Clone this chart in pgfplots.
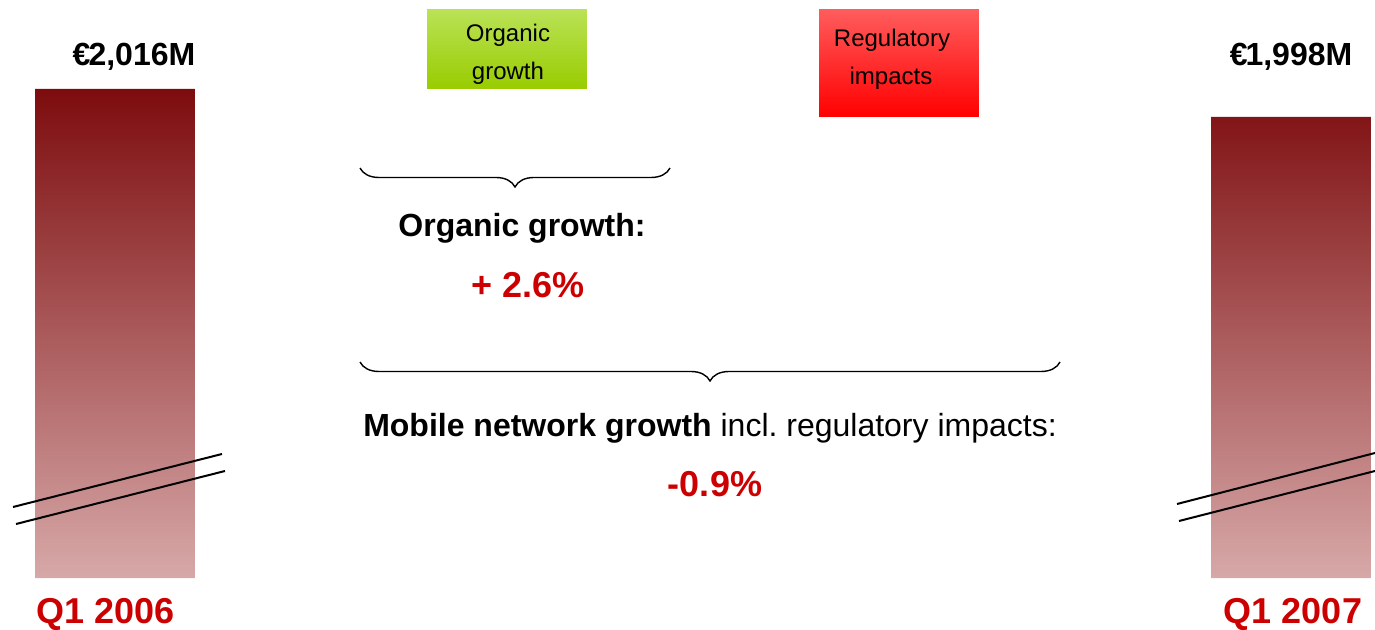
\documentclass[border=0pt]{standalone}
\usepackage{pgfplots}
\pgfplotsset{compat=1.18}
\usepackage{fontspec}
\setmainfont{Liberation Sans}
\usetikzlibrary{decorations.pathreplacing}
\definecolor{bartop}{RGB}{125,12,14}
\definecolor{barbot}{RGB}{215,168,168}
\definecolor{greentop}{RGB}{186,226,86}
\definecolor{greenbot}{RGB}{153,204,0}
\definecolor{redtop}{RGB}{255,92,92}
\definecolor{redbot}{RGB}{255,0,0}
\definecolor{txtred}{RGB}{204,0,0}
\newcommand\fmid{\fontsize{32bp}{38bp}\selectfont}
\newcommand\fbig{\fontsize{36bp}{42bp}\selectfont}
\newcommand\fsmall{\fontsize{24bp}{29bp}\selectfont}
\frenchspacing
\begin{document}
\begin{tikzpicture}
\begin{axis}[
  scale only axis, width=1375bp, height=629bp,
  at={(0,0)}, anchor=south west,
  xmin=-0.29337, xmax=3.21429, ymin=1668.9, ymax=2073.2,
  axis lines=none, ybar stacked, bar width=0.408,
  clip mode=individual,
]
% invisible base of each floating bar
\addplot[draw=none, fill=none] coordinates {(0,1701.6) (1,2016) (2,1998) (3,1701.6)};
% totals (broken axis)
\addplot[draw=none, top color=bartop, bottom color=barbot] coordinates {(0,314.4) (1,0) (2,0) (3,296.4)};
% organic growth
\addplot[draw=none, top color=greentop, bottom color=greenbot] coordinates {(0,0) (1,51) (2,0) (3,0)};
% regulatory impacts
\addplot[draw=none, top color=redtop, bottom color=redbot] coordinates {(0,0) (1,0) (2,69) (3,0)};
\coordinate (TL) at (rel axis cs:0,1);
\coordinate (BR) at (rel axis cs:1,0);
\end{axis}
\begin{scope}[shift={(TL)}, x=1bp, y=-1bp]
  % axis break marks
  \draw[line width=2bp] (13,507) -- (222,454);
  \draw[line width=2bp] (16,524) -- (225,471);
  \draw[line width=2bp] (1177,504) -- (1375,453);
  \draw[line width=2bp] (1179,521) -- (1375,471);
  % braces
  \draw[line width=1.4bp, decorate, decoration={brace, mirror, amplitude=19bp}] (360,168) -- (670,168);
  \draw[line width=1.4bp, decorate, decoration={brace, mirror, amplitude=19bp}] (360,362) -- (1060,362);
  % texts
  \node[anchor=base, inner sep=0] at (134,66) {\fmid\bfseries €\kern-2bp 2,016M};
  \node[anchor=base, inner sep=0] at (1291,66) {\fmid\bfseries €\kern-2bp 1,998M};
  \node[anchor=base, inner sep=0, text=txtred] at (106,623) {\fbig\bfseries Q1 2006};
  \node[anchor=base, inner sep=0, text=txtred] at (1293,623) {\fbig\bfseries Q1 2007};
  \node[anchor=base, inner sep=0] at (508,42) {\fsmall Organic};
  \node[anchor=base, inner sep=0] at (508,80) {\fsmall growth};
  \node[anchor=base, inner sep=0] at (892,47) {\fsmall Regulatory};
  \node[anchor=base, inner sep=0] at (891,85) {\fsmall impacts};
  \node[anchor=base, inner sep=0] at (522,237) {\fmid\bfseries Organic growth:};
  \node[anchor=base, inner sep=0, text=txtred] at (528,298) {\fbig\bfseries + 2.6\%};
  \node[anchor=base, inner sep=0] at (710,437) {\fmid\textbf{Mobile network growth} incl.\ regulatory impacts:};
  \node[anchor=base, inner sep=0, text=txtred] at (715,497) {\fbig\bfseries -0.9\%};
\end{scope}
\pgfresetboundingbox
\path[use as bounding box] (TL) rectangle (BR);
\end{tikzpicture}
\end{document}
